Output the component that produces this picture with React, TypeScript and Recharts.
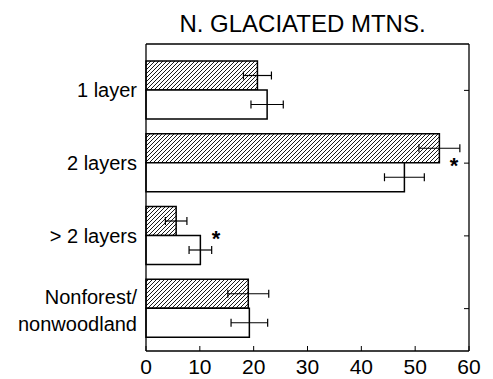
import React from 'react';
import { BarChart, Bar, XAxis, YAxis, ErrorBar, ReferenceDot } from 'recharts';

// values (percent of sites)
const categories = ['1 layer', '2 layers', '> 2 layers', 'Nonforest/ nonwoodland'];
const hatchedValues = [20.7, 54.5, 5.6, 19.0];
const hatchedErrors = [2.6, 3.8, 2.0, 3.8];
const openValues = [22.5, 48.0, 10.1, 19.2];
const openErrors = [3.0, 3.7, 2.1, 3.4];
// where the significance stars sit (x value), null = no star
const starAt = [null, 57.2, 13.0, null];
const xTicks = [0, 10, 20, 30, 40, 50, 60];

const FONT = '"Liberation Sans", Arial, sans-serif';
const TICK = 5;

const data = categories.map((name, i) => ({
  name,
  hatched: hatchedValues[i],
  hatchedErr: hatchedErrors[i],
  open: openValues[i],
  openErr: openErrors[i],
}));

// bottom axis: label plus an inward (upward) tick mark
const BottomTick = (props: any) => {
  const { x, y, payload } = props;
  const axisY = y - 8;
  return (
    <g>
      <line x1={x} x2={x} y1={axisY} y2={axisY - TICK} stroke="#000" strokeWidth={1} />
      <text x={x} y={y + 15} textAnchor="middle" fontSize={21} fontFamily={FONT} fill="#000">
        {payload.value}
      </text>
    </g>
  );
};

// top axis: only inward (downward) tick marks
const TopTick = (props: any) => {
  const { x, y } = props;
  return <line x1={x} x2={x} y1={y} y2={y + TICK} stroke="#000" strokeWidth={1} />;
};

// right axis: only inward (leftward) tick marks
const RightTick = (props: any) => {
  const { x, y } = props;
  return <line x1={x} x2={x - TICK} y1={y} y2={y} stroke="#000" strokeWidth={1} />;
};

const CategoryTick = (props: any) => {
  const { x, y, payload } = props;
  const label: string = payload.value;
  const parts = label.split('/ ');
  if (parts.length === 1) {
    return (
      <text x={x} y={y + 7} textAnchor="end" fontSize={20} fontFamily={FONT} fill="#000">
        {label}
      </text>
    );
  }
  return (
    <g>
      <text x={x} y={y - 5} textAnchor="end" fontSize={20} fontFamily={FONT} fill="#000">
        {parts[0] + '/'}
      </text>
      <text x={x} y={y + 22} textAnchor="end" fontSize={20} fontFamily={FONT} fill="#000">
        {parts[1]}
      </text>
    </g>
  );
};

const Star = (props: any) => (
  <text x={props.cx} y={props.cy + 10} textAnchor="middle" fontSize={22} fontWeight="bold" fontFamily={FONT} fill="#000">
    *
  </text>
);

const axisStroke = { stroke: '#000', strokeWidth: 1.3 };

export default function App() {
  return (
    <div style={{ position: 'absolute', left: 0, top: 0, width: 493, height: 379, background: '#fff' }}>
      <svg width={0} height={0} style={{ position: 'absolute' }}>
        <defs>
          <pattern id="hatch" patternUnits="userSpaceOnUse" width={4} height={4}>
            <path d="M-1,1 l2,-2 M0,4 l4,-4 M3,5 l2,-2" stroke="#000" strokeWidth={0.9} />
          </pattern>
        </defs>
      </svg>
      <div
        style={{
          position: 'absolute',
          left: 100,
          width: 405,
          top: 12,
          textAlign: 'center',
          fontFamily: FONT,
          fontSize: 24,
          lineHeight: '24px',
          color: '#000',
        }}
      >
        N. GLACIATED MTNS.
      </div>
      <BarChart
        width={493}
        height={379}
        data={data}
        layout="vertical"
        margin={{ top: 43, right: 23, left: 0, bottom: 0 }}
        barSize={29}
        barGap={0}
      >
        <XAxis
          xAxisId="val"
          type="number"
          domain={[0, 60]}
          ticks={xTicks}
          height={28}
          axisLine={axisStroke}
          tickLine={false}
          tickSize={0}
          tickMargin={8}
          tick={<BottomTick />}
          interval={0}
        />
        <XAxis
          xAxisId="top"
          orientation="top"
          type="number"
          domain={[0, 60]}
          ticks={xTicks}
          height={1}
          axisLine={axisStroke}
          tickLine={false}
          tickSize={0}
          tickMargin={0}
          tick={<TopTick />}
          interval={0}
        />
        <YAxis
          yAxisId="cat"
          type="category"
          dataKey="name"
          width={146}
          padding={{ top: 10, bottom: 6 }}
          axisLine={axisStroke}
          tickLine={false}
          tickSize={0}
          tickMargin={9}
          tick={<CategoryTick />}
          interval={0}
        />
        <YAxis
          yAxisId="right"
          orientation="right"
          type="category"
          dataKey="name"
          width={1}
          padding={{ top: 10, bottom: 6 }}
          axisLine={axisStroke}
          tickLine={false}
          tickSize={0}
          tickMargin={0}
          tick={<RightTick />}
          interval={0}
        />
        <Bar
          xAxisId="val"
          yAxisId="cat"
          dataKey="hatched"
          fill="url(#hatch)"
          stroke="#000"
          strokeWidth={1.5}
          isAnimationActive={false}
        >
          <ErrorBar dataKey="hatchedErr" direction="x" width={4} stroke="#000" strokeWidth={1.2} />
        </Bar>
        <Bar
          xAxisId="val"
          yAxisId="cat"
          dataKey="open"
          fill="#fff"
          stroke="#000"
          strokeWidth={1.5}
          isAnimationActive={false}
        >
          <ErrorBar dataKey="openErr" direction="x" width={4} stroke="#000" strokeWidth={1.2} />
        </Bar>
        {categories.map((name, i) =>
          starAt[i] == null ? null : (
            <ReferenceDot
              key={name}
              xAxisId="val"
              yAxisId="cat"
              x={starAt[i] as number}
              y={name}
              r={0}
              shape={<Star />}
            />
          )
        )}
      </BarChart>
    </div>
  );
}
